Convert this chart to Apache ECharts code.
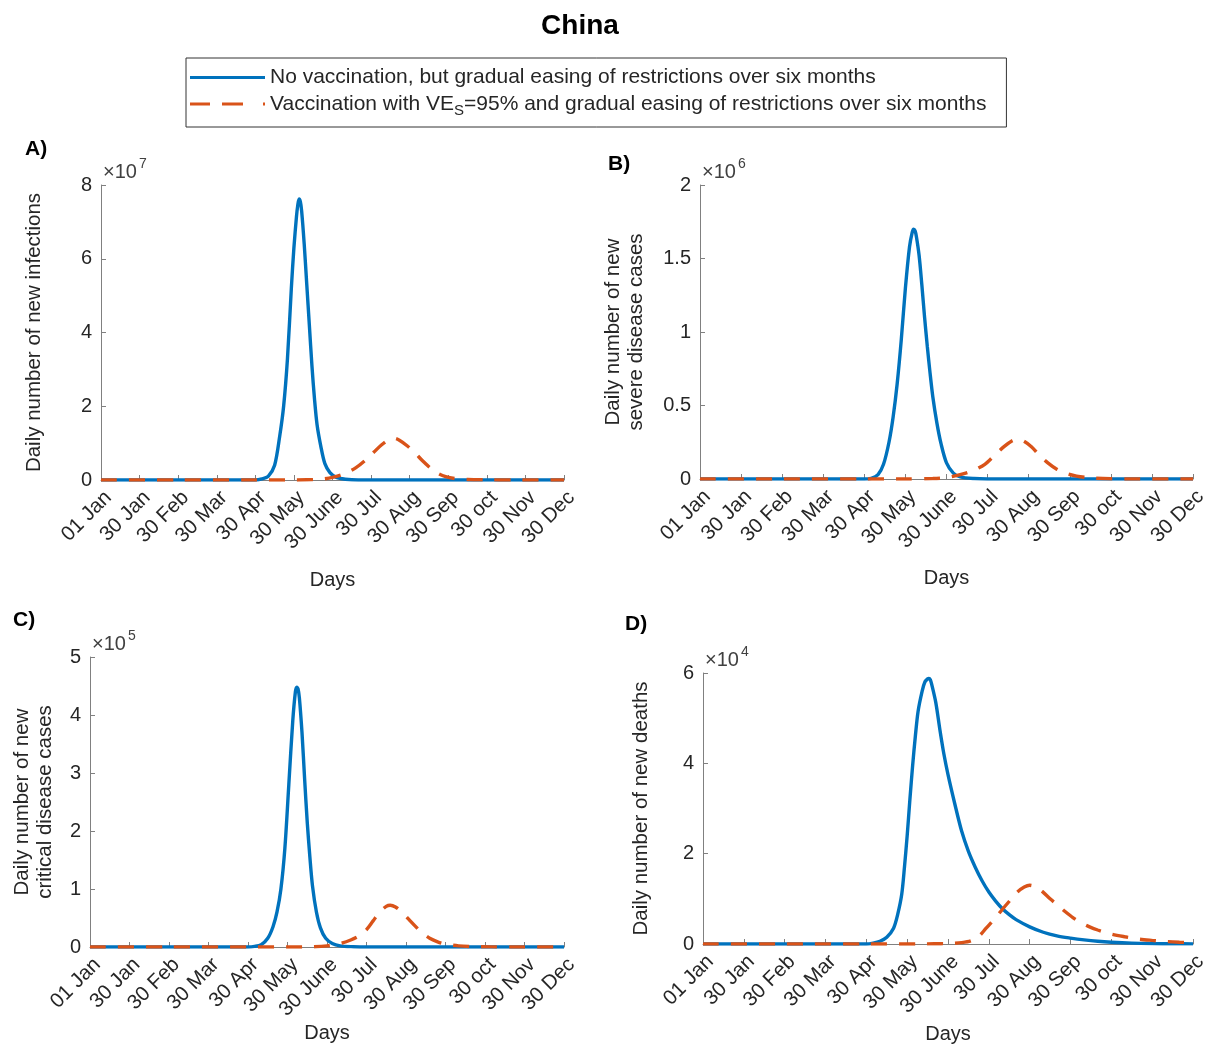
<!DOCTYPE html>
<html>
<head>
<meta charset="utf-8">
<script src="https://cdn.jsdelivr.net/npm/echarts@6/dist/echarts.min.js"></script>
<style>html,body{margin:0;padding:0;background:#fff}#c{width:1210px;height:1045px}</style>
</head>
<body>
<div id="c"></div>
<script>
// ---- data ----
const chartTitle = 'China';
const seriesNames = ['No vaccination, but gradual easing of restrictions over six months',
                     'Vaccination with VES=95% and gradual easing of restrictions over six months'];
const dayTickLabels = ['01 Jan','30 Jan','30 Feb','30 Mar','30 Apr','30 May','30 June','30 Jul','30 Aug','30 Sep','30 oct','30 Nov','30 Dec'];

// A) daily new infections (x 1e7)
const infNoVacDays = [0,60,120,125,130,135,139,142,145,148,150,152,153,154,155,156,158,160,162,164,166,168,171,174,178,183,190,200,260,360];
const infNoVacVals = [0,0,0,0.03,0.1,0.4,1.2,2.0,3.3,5.2,6.3,7.15,7.45,7.62,7.55,7.3,6.4,5.3,4.2,3.1,2.2,1.5,0.9,0.45,0.2,0.07,0.02,0,0,0];
const infVacDays = [0,60,120,150,160,170,180,190,198,205,212,218,224,228,232,238,244,250,256,262,268,275,285,300,320,360];
const infVacVals = [0,0,0,0,0.005,0.02,0.07,0.18,0.33,0.52,0.75,0.95,1.1,1.13,1.08,0.93,0.74,0.52,0.33,0.18,0.09,0.04,0.015,0.005,0,0];

// B) daily new severe disease cases (x 1e6)
const sevNoVacDays = [0,60,120,125,130,134,138,141,144,147,150,153,155,156,157,158,160,162,164,166,168,170,173,176,180,185,190,200,210,360];
const sevNoVacVals = [0,0,0,0.005,0.03,0.1,0.25,0.42,0.65,0.95,1.3,1.58,1.68,1.7,1.69,1.65,1.52,1.32,1.1,0.9,0.72,0.56,0.38,0.24,0.11,0.04,0.015,0.003,0,0];
const sevVacDays = [0,60,120,150,170,180,190,200,208,215,222,228,232,236,242,248,254,260,267,275,285,300,320,360];
const sevVacVals = [0,0,0,0,0.003,0.01,0.03,0.06,0.1,0.16,0.22,0.26,0.27,0.26,0.22,0.16,0.11,0.07,0.04,0.02,0.008,0.002,0,0];

// C) daily new critical disease cases (x 1e5)
const criNoVacDays = [0,60,120,125,130,135,139,142,145,148,151,154,156,157,158,159,161,163,165,167,169,172,175,179,184,190,200,210,360];
const criNoVacVals = [0,0,0,0.01,0.04,0.15,0.35,0.6,1.0,1.7,2.8,3.9,4.4,4.48,4.45,4.3,3.7,2.9,2.15,1.55,1.05,0.6,0.33,0.15,0.06,0.02,0.005,0,0];
const criVacDays = [0,60,120,150,170,180,190,198,205,210,215,220,225,228,232,237,242,247,252,258,264,270,280,290,305,320,360];
const criVacVals = [0,0,0,0,0.005,0.02,0.06,0.12,0.2,0.3,0.45,0.6,0.7,0.72,0.69,0.6,0.48,0.36,0.25,0.15,0.09,0.05,0.02,0.008,0.002,0,0];

// D) daily new deaths (x 1e4)
const dthNoVacDays = [0,60,120,125,130,135,140,143,146,148,150,152,154,156,158,161,163,165,166,167,168,171,174,177,180,185,190,195,200,205,210,215,220,225,230,240,250,260,270,280,290,300,315,330,345,360];
const dthNoVacVals = [0,0,0,0.02,0.06,0.15,0.35,0.65,1.1,1.7,2.4,3.2,3.95,4.6,5.15,5.6,5.8,5.87,5.88,5.85,5.75,5.35,4.75,4.2,3.75,3.1,2.5,2.05,1.7,1.4,1.15,0.95,0.78,0.65,0.54,0.38,0.26,0.18,0.13,0.09,0.06,0.04,0.02,0.01,0.005,0.003];
const dthVacDays = [0,60,120,160,170,180,190,197,203,208,214,220,226,231,236,240,244,249,255,261,266,272,278,284,290,300,310,320,330,340,350,360];
const dthVacVals = [0,0,0,0,0.005,0.01,0.03,0.07,0.18,0.35,0.55,0.77,0.98,1.15,1.26,1.3,1.27,1.17,1.0,0.85,0.72,0.58,0.47,0.38,0.31,0.22,0.16,0.11,0.08,0.055,0.04,0.03];

const yTitles = ['Daily number of new infections','Daily number of new\nsevere disease cases','Daily number of new\ncritical disease cases','Daily number of new deaths'];
const yMax = [8,2,5,6];
const yInterval = [2,0.5,1,2];
const yExponent = ['7','6','5','4'];
const panelLetters = ['A)','B)','C)','D)'];

// ---- layout ----
const grids = [
  {left:101, top:185, width:463, height:295, yGap:55, xGap:90, letter:[25,139]},
  {left:700, top:185, width:493, height:294, yGap:52, xGap:89, letter:[608,154]},
  {left:90,  top:657, width:474, height:290, yGap:33, xGap:73, letter:[13,610]},
  {left:703, top:673, width:492, height:277, yGap:50, xGap:80, letter:[625,614]}
];
const BLUE = '#0072BD', ORANGE = '#D95319', AX = '#808080', TXT = '#262626';
const FONT = 'Liberation Sans, Arial, Helvetica, sans-serif';
const ICON_SOLID = 'path://M0,0H75V3H0Z';
const ICON_DASH = 'path://M0,0H20V3H0Z M32,0H53V3H32Z M73,0H75V3H73Z';

const panelData = [
  [infNoVacDays, infNoVacVals, infVacDays, infVacVals],
  [sevNoVacDays, sevNoVacVals, sevVacDays, sevVacVals],
  [criNoVacDays, criNoVacVals, criVacDays, criVacVals],
  [dthNoVacDays, dthNoVacVals, dthVacDays, dthVacVals]
];
const zip = (d, v) => d.map((x, i) => [x, v[i]]);

const option = {
  backgroundColor: '#fff',
  animation: false,
  textStyle: {fontFamily: FONT},
  legend: {
    orient: 'vertical', left: 186, top: 58,
    padding: [9, 20, 9, 4], itemGap: 2,
    borderColor: '#333', borderWidth: 1,
    itemWidth: 75, itemHeight: 3,
    data: [{name: seriesNames[0], icon: ICON_SOLID}, {name: seriesNames[1], icon: ICON_DASH}],
    formatter: function (n) {
      if (n === seriesNames[1]) return '{n|Vaccination with VE}{s|S}{n|=95% and gradual easing of restrictions over six months}';
      return '{n|' + n + '}';
    },
    textStyle: {color: TXT, fontFamily: FONT,
      rich: {n: {fontSize: 21, color: TXT, fontFamily: FONT, lineHeight: 22},
             s: {fontSize: 15, color: TXT, fontFamily: FONT, padding: [13, 0, 0, 0], lineHeight: 22}}}
  },
  grid: grids.map(g => ({left: g.left, top: g.top, width: g.width, height: g.height, containLabel: false})),
  xAxis: grids.map((g, i) => ({
    gridIndex: i, type: 'value', min: 0, max: 360, interval: 30,
    name: 'Days', nameLocation: 'middle', nameGap: g.xGap,
    nameTextStyle: {fontSize: 20, color: TXT, fontFamily: FONT},
    axisLine: {lineStyle: {color: AX, width: 1}},
    axisTick: {inside: true, length: 5, lineStyle: {color: AX}},
    splitLine: {show: false},
    axisLabel: {rotate: 45, fontSize: 20.5, color: TXT, fontFamily: FONT, margin: 7, verticalAlign: 'top',
                formatter: v => dayTickLabels[Math.round(v / 30)] || ''}
  })),
  yAxis: grids.map((g, i) => ({
    gridIndex: i, type: 'value', min: 0, max: yMax[i], interval: yInterval[i],
    name: yTitles[i], nameLocation: 'middle', nameGap: g.yGap,
    nameTextStyle: {fontSize: 20.5, color: TXT, fontFamily: FONT, lineHeight: 23},
    axisLine: {show: true, lineStyle: {color: AX, width: 1}},
    axisTick: {show: true, inside: true, length: 5, lineStyle: {color: AX}},
    splitLine: {show: false},
    axisLabel: {fontSize: 20, color: TXT, fontFamily: FONT, margin: 9}
  })),
  series: [],
  graphic: [{type: 'text', x: 580, y: 12,
    style: {text: chartTitle, font: 'bold 28px ' + FONT, fill: '#000', textAlign: 'center'}}]
};

panelData.forEach((p, i) => {
  option.series.push({name: seriesNames[0], type: 'line', xAxisIndex: i, yAxisIndex: i,
    data: zip(p[0], p[1]), showSymbol: false, symbol: 'none', smooth: 0.3,
    lineStyle: {color: BLUE, width: 3.4}, itemStyle: {color: BLUE}, z: 3});
  option.series.push({name: seriesNames[1], type: 'line', xAxisIndex: i, yAxisIndex: i,
    data: zip(p[2], p[3]), showSymbol: false, symbol: 'none', smooth: 0.3,
    lineStyle: {color: ORANGE, width: 3.4, type: [16, 12]}, itemStyle: {color: ORANGE}, z: 4});
  const g = grids[i];
  option.graphic.push({type: 'text', left: g.letter[0], top: g.letter[1],
    style: {text: panelLetters[i], font: 'bold 21px ' + FONT, fill: '#000'}});
  option.graphic.push({type: 'text', left: g.left + 2, top: g.top - 23,
    style: {text: '×10', font: '20px ' + FONT, fill: '#404040'}});
  option.graphic.push({type: 'text', left: g.left + 38, top: g.top - 28,
    style: {text: yExponent[i], font: '14px ' + FONT, fill: '#404040'}});
});

const chart = echarts.init(document.getElementById('c'), null, {renderer: 'canvas'});
chart.setOption(option);
</script>
</body>
</html>
